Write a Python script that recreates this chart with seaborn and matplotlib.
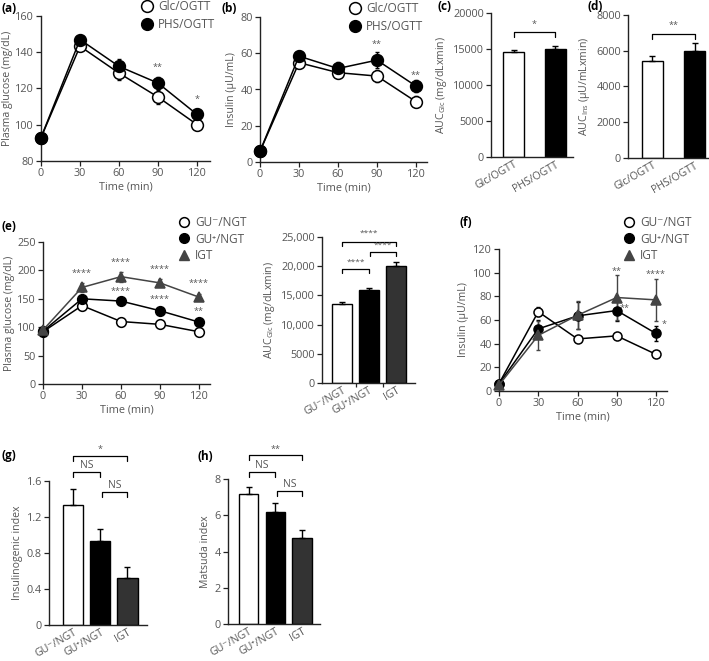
import matplotlib
matplotlib.use("Agg")
import matplotlib.pyplot as plt
import seaborn as sns
import pandas as pd
from matplotlib.lines import Line2D

sns.set_theme(style="ticks")
plt.rcParams["font.family"] = ["Open Sans", "DejaVu Sans"]
plt.rcParams["mathtext.fontset"] = "custom"
plt.rcParams["mathtext.rm"] = "Open Sans"
plt.rcParams["mathtext.default"] = "regular"
TXT = "#555555"
plt.rcParams["text.color"] = TXT
plt.rcParams["axes.labelcolor"] = TXT
plt.rcParams["xtick.color"] = "#222222"
plt.rcParams["ytick.color"] = "#222222"
plt.rcParams["xtick.labelcolor"] = TXT
plt.rcParams["ytick.labelcolor"] = TXT

# ---------------- data ----------------
time = [0, 30, 60, 90, 120]

# (a) plasma glucose
a_glc = [92.9, 143.3, 128.5, 115.3, 100.1]
a_glc_err = [1.0, 2.0, 4.0, 4.0, 3.0]
a_phs = [92.9, 147.0, 132.2, 123.0, 105.7]
a_phs_err = [1.0, 1.5, 4.0, 3.5, 3.0]
a_stars = ["", "", "", "**", "*"]
a_star_y = [0, 0, 0, 131.5, 114.0]

# (b) insulin
b_glc = [5.9, 54.8, 49.3, 47.4, 33.3]
b_glc_err = [1.0, 3.0, 2.5, 3.5, 3.2]
b_phs = [5.9, 58.4, 51.6, 56.2, 41.9]
b_phs_err = [1.0, 3.0, 3.5, 4.5, 3.5]
b_stars = ["", "", "", "**", "**"]
b_star_y = [0, 0, 0, 65.0, 48.0]

# (c) AUC glucose
cd_groups = ["Glc/OGTT", "PHS/OGTT"]
c_auc = [14540, 15050]
c_err = [370, 320]
# (d) AUC insulin
d_auc = [5450, 6010]
d_err = [260, 400]

# (e) glucose by group
groups = ["GU\u207b/NGT", "GU\u207a/NGT", "IGT"]
e_neg = [92, 138, 110, 105, 92]
e_neg_err = [2, 3, 2, 2, 2]
e_pos = [93, 150, 146, 129, 109]
e_pos_err = [2, 3, 3, 3, 3]
e_igt = [95, 170, 189, 178, 153]
e_igt_err = [3, 8, 9, 6, 5]
e_igt_stars = ["", "****", "****", "****", "****"]
e_igt_star_y = [0, 195, 214, 202, 177]
e_pos_stars = ["", "", "****", "****", "**"]
e_pos_star_y = [0, 0, 163, 149, 128]

e_auc = [13500, 15850, 19980]
e_auc_err = [300, 500, 700]

# (f) insulin by group
f_neg = [6.2, 67.0, 44.0, 46.6, 31.0]
f_neg_err = [1, 4, 2, 2, 2]
f_pos = [6.0, 52.5, 63.5, 68.0, 48.6]
f_pos_err = [1, 7.5, 11.5, 9, 6]
f_igt = [5.0, 47.0, 64.0, 79.0, 77.0]
f_igt_err = [1, 12.5, 12, 19, 18]

# (g) insulinogenic index, (h) Matsuda index
g_val = [1.33, 0.93, 0.52]
g_err = [0.18, 0.135, 0.125]
h_val = [7.19, 6.17, 4.77]
h_err = [0.39, 0.49, 0.42]

# ---------------- figure ----------------
W, H = 709, 661
fig = plt.figure(figsize=(W / 100, H / 100), dpi=100)


def add_ax(l, r, t, b):
    return fig.add_axes([l / W, 1 - b / H, (r - l) / W, (b - t) / H])


FS = 7.8
LFS = 7.6


def style(ax):
    sns.despine(ax=ax)
    for s in ["left", "bottom"]:
        ax.spines[s].set_linewidth(1.0)
        ax.spines[s].set_color("#222222")
    ax.tick_params(axis="both", labelsize=FS, length=3.5, width=0.9, pad=1.5)


def line_series(ax, y, err, face, marker, ms, color="black"):
    df = pd.DataFrame({"t": time, "v": y})
    sns.lineplot(data=df, x="t", y="v", ax=ax, color=color, lw=1.1,
                 marker=marker, markersize=ms, markerfacecolor=face,
                 markeredgecolor=color, markeredgewidth=1.1, clip_on=False,
                 zorder=3)
    ax.errorbar(time, y, yerr=err, fmt="none", ecolor=color, elinewidth=1,
                capsize=1.5, capthick=1, zorder=2, clip_on=False)


def stars(ax, xs, ys, labels, dx=0):
    for x, y, s in zip(xs, ys, labels):
        if s:
            ax.text(x + dx, y, s, ha="center", va="center", fontsize=6.5,
                    color=TXT, clip_on=False)


def bars(ax, cats, vals, errs, colors, width):
    df = pd.DataFrame({"g": cats, "v": vals})
    sns.barplot(data=df, x="g", y="v", hue="g", palette=colors, ax=ax,
                width=width, edgecolor="black", linewidth=1.0, legend=False,
                errorbar=None, saturation=1)
    ax.errorbar(range(len(vals)), vals, yerr=[[0] * len(vals), errs],
                fmt="none", ecolor="black", elinewidth=1, capsize=2,
                capthick=1, clip_on=False)


def bracket(ax, x0, x1, y, h, label, ty, fs=6.5):
    ax.plot([x0, x0, x1, x1], [y - h, y, y, y - h], color="black", lw=0.9,
            clip_on=False)
    ax.text((x0 + x1) / 2, ty, label, ha="center", va="center", fontsize=fs,
            color=TXT, clip_on=False)


def legend(ax, handles, labels, x, y, spacing):
    ax.legend(handles, labels, loc="upper left",
              bbox_to_anchor=(x / W, 1 - y / H),
              bbox_transform=fig.transFigure, frameon=False, fontsize=8.5,
              borderpad=0, borderaxespad=0, handlelength=1.0,
              handletextpad=0.45, labelspacing=spacing)


def rot_labels(ax):
    plt.setp(ax.get_xticklabels(), rotation=30, ha="right",
             rotation_mode="anchor", fontsize=7.6)


open_h = Line2D([], [], marker="o", ls="none", mfc="white", mec="black",
                mew=1.1, ms=8.5)
fill_h = Line2D([], [], marker="o", ls="none", mfc="black", mec="black",
                ms=8.5)

# (a)
ax = add_ax(41, 210, 16, 161)
line_series(ax, a_glc, a_glc_err, "white", "o", 8.5)
line_series(ax, a_phs, a_phs_err, "black", "o", 8.5)
stars(ax, time, a_star_y, a_stars)
ax.set_xlim(0, 130)
ax.set_ylim(80, 160)
ax.set_xticks(time)
ax.set_yticks([80, 100, 120, 140, 160])
ax.set_xlabel("Time (min)", fontsize=FS, labelpad=2)
ax.set_ylabel("Plasma glucose (mg/dL)", fontsize=LFS, labelpad=2)
style(ax)
legend(ax, [open_h, fill_h], cd_groups, 141, 0, 0.45)

# (b)
ax = add_ax(260, 427, 17, 162)
line_series(ax, b_glc, b_glc_err, "white", "o", 8.5)
line_series(ax, b_phs, b_phs_err, "black", "o", 8.5)
stars(ax, time, b_star_y, b_stars)
ax.set_xlim(0, 128.5)
ax.set_ylim(0, 80)
ax.set_xticks(time)
ax.set_yticks([0, 20, 40, 60, 80])
ax.set_xlabel("Time (min)", fontsize=FS, labelpad=2)
ax.set_ylabel("Insulin (\u03bcU/mL)", fontsize=LFS, labelpad=3)
style(ax)
legend(ax, [open_h, fill_h], cd_groups, 349, 2, 0.45)

# (c)
ax = add_ax(491, 573, 13, 157)
bars(ax, cd_groups, c_auc, c_err, ["white", "black"], 0.5)
bracket(ax, 0, 1, 17400, 700, "*", 18400)
ax.set_xlim(-0.54, 1.42)
ax.set_ylim(0, 20000)
ax.set_yticks([0, 5000, 10000, 15000, 20000])
ax.set_xlabel("")
ax.set_ylabel("AUC$_{Glc}$ (mg/dLxmin)", fontsize=LFS, labelpad=3)
style(ax)
ax.tick_params(axis="x", length=0)
rot_labels(ax)

# (d)
ax = add_ax(628, 709, 15, 158)
bars(ax, cd_groups, d_auc, d_err, ["white", "black"], 0.5)
bracket(ax, 0, 1, 6950, 280, "**", 7400)
ax.set_xlim(-0.58, 1.34)
ax.set_ylim(0, 8000)
ax.set_yticks([0, 2000, 4000, 6000, 8000])
ax.set_xlabel("")
ax.set_ylabel("AUC$_{Ins}$ (\u03bcU/mLxmin)", fontsize=LFS, labelpad=3)
style(ax)
ax.tick_params(axis="x", length=0)
rot_labels(ax)

grp_handles = [
    Line2D([], [], marker="o", ls="none", mfc="white", mec="black", mew=1.1,
           ms=7),
    Line2D([], [], marker="o", ls="none", mfc="black", mec="black", ms=7),
    Line2D([], [], marker="^", ls="none", mfc="#444444", mec="#444444",
           ms=7),
]

# (e) line
ax = add_ax(43, 210, 242, 384)
line_series(ax, e_neg, e_neg_err, "white", "o", 7)
line_series(ax, e_pos, e_pos_err, "black", "o", 7)
line_series(ax, e_igt, e_igt_err, "#444444", "^", 7.5, color="#444444")
stars(ax, time, e_igt_star_y, e_igt_stars)
stars(ax, time, e_pos_star_y, e_pos_stars)
ax.set_xlim(0, 128.5)
ax.set_ylim(0, 250)
ax.set_xticks(time)
ax.set_yticks([0, 50, 100, 150, 200, 250])
ax.set_xlabel("Time (min)", fontsize=FS, labelpad=2)
ax.set_ylabel("Plasma glucose (mg/dL)", fontsize=LFS, labelpad=2)
style(ax)
legend(ax, grp_handles, groups, 178, 216, 0.3)

# (e) bars
ax = add_ax(322, 415, 237, 383)
bars(ax, groups, e_auc, e_auc_err, ["white", "black", "#333333"], 0.74)
bracket(ax, 0, 1, 19500, 700, "****", 20700, fs=6)
bracket(ax, 1.05, 2, 22400, 700, "****", 23600, fs=6)
bracket(ax, 0, 2, 24100, 600, "****", 25600, fs=6)
ax.set_xlim(-0.74, 2.7)
ax.set_ylim(0, 25000)
ax.set_yticks([0, 5000, 10000, 15000, 20000, 25000])
ax.set_yticklabels(["0", "5000", "10,000", "15,000", "20,000", "25,000"])
ax.set_xlabel("")
ax.set_ylabel("AUC$_{Glc}$ (mg/dLxmin)", fontsize=LFS, labelpad=3)
style(ax)
ax.set_xticks([0.5, 1.5], minor=True)
ax.tick_params(axis="x", which="major", length=0)
ax.tick_params(axis="x", which="minor", length=3, width=0.9,
               color="#222222")
rot_labels(ax)

# (f)
ax = add_ax(499, 667, 249, 391)
line_series(ax, f_neg, f_neg_err, "white", "o", 6.5)
line_series(ax, f_pos, f_pos_err, "black", "o", 6.5)
line_series(ax, f_igt, f_igt_err, "#444444", "^", 7, color="#444444")
stars(ax, [90, 120], [101, 98.5], ["**", "****"])
stars(ax, [90, 120], [70, 56], ["**", "*"], dx=6)
ax.set_xlim(0, 128.4)
ax.set_ylim(0, 120)
ax.set_xticks(time)
ax.set_yticks([0, 20, 40, 60, 80, 100, 120])
ax.set_xlabel("Time (min)", fontsize=FS, labelpad=2)
ax.set_ylabel("Insulin (\u03bcU/mL)", fontsize=LFS, labelpad=3)
style(ax)
legend(ax, grp_handles, groups, 623, 216, 0.3)

# (g)
ax = add_ax(49, 147, 481, 625)
bars(ax, groups, g_val, g_err, ["white", "black", "#333333"], 0.75)
bracket(ax, 0, 2, 1.88, 0.055, "*", 1.95)
bracket(ax, 0, 1, 1.70, 0.055, "NS", 1.77, fs=7.5)
bracket(ax, 1.05, 2, 1.48, 0.055, "NS", 1.55, fs=7.5)
ax.set_xlim(-0.88, 2.72)
ax.set_ylim(0, 1.6)
ax.set_yticks([0, 0.4, 0.8, 1.2, 1.6])
ax.set_yticklabels(["0", "0.4", "0.8", "1.2", "1.6"])
ax.set_xlabel("")
ax.set_ylabel("Insulinogenic index", fontsize=LFS, labelpad=3)
style(ax)
ax.tick_params(axis="x", length=0)
rot_labels(ax)

# (h)
ax = add_ax(228, 320, 479, 624)
bars(ax, groups, h_val, h_err, ["white", "black", "#333333"], 0.73)
bracket(ax, 0, 2, 9.33, 0.28, "**", 9.65)
bracket(ax, 0, 1, 8.41, 0.28, "NS", 8.75, fs=7.5)
bracket(ax, 1.05, 2, 7.36, 0.28, "NS", 7.7, fs=7.5)
ax.set_xlim(-0.77, 2.67)
ax.set_ylim(0, 8)
ax.set_yticks([0, 2, 4, 6, 8])
ax.set_xlabel("")
ax.set_ylabel("Matsuda index", fontsize=LFS, labelpad=3)
style(ax)
ax.tick_params(axis="x", length=0)
rot_labels(ax)

# panel letters
for lab, x, y in [("(a)", 2, 8), ("(b)", 222, 8), ("(c)", 437, 6),
                  ("(d)", 587, 6), ("(e)", 2, 226), ("(f)", 460, 223),
                  ("(g)", 2, 456), ("(h)", 198, 456)]:
    fig.text(x / W, 1 - y / H, lab, fontsize=8.5, fontweight="bold",
             color="black", va="center", ha="left")

fig.savefig("out.png", dpi=100)
